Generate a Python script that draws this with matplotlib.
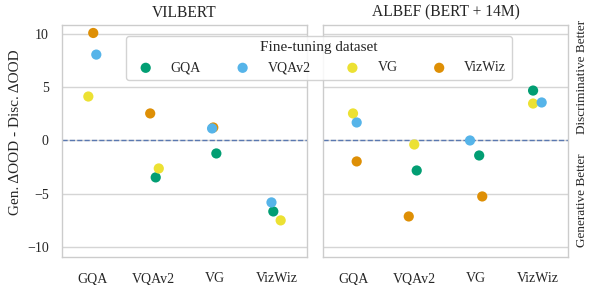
import matplotlib
matplotlib.use("Agg")
import matplotlib.pyplot as plt
import numpy as np
import seaborn as sns

sns.set_theme(style="whitegrid")
plt.rcParams['font.family'] = ['Liberation Serif', 'DejaVu Serif']
plt.rcParams['mathtext.fontset'] = 'stix'

eval_sets = ["GQA", "VQAv2", "VG", "VizWiz"]
finetune_sets = ["GQA", "VQAv2", "VG", "VizWiz"]
colors = {"GQA": "#029e73", "VQAv2": "#56b4e9", "VG": "#ece133", "VizWiz": "#de8f05"}
draw_order = {"VizWiz": 2, "GQA": 3, "VG": 4, "VQAv2": 5}
models = ["VILBERT", "ALBEF (BERT + 14M)"]

# values per model: fine-tuning dataset -> list over eval_sets (None = in-domain, not shown)
vilbert = {
    "GQA":    [None, -3.47, -1.22, -6.67],
    "VQAv2":  [8.07, None, 1.13, -5.82],
    "VG":     [4.13, -2.63, None, -7.51],
    "VizWiz": [10.1, 2.54, 1.22, None],
}
albef = {
    "GQA":    [None, -2.82, -1.41, 4.69],
    "VQAv2":  [1.69, None, 0.0, 3.57],
    "VG":     [2.54, -0.38, None, 3.47],
    "VizWiz": [-1.97, -7.14, -5.26, None],
}
# horizontal strip jitter (category units)
vilbert_jitter = {
    "GQA":    [0, 0.03, 0.02, -0.05],
    "VQAv2":  [0.06, 0, -0.05, -0.08],
    "VG":     [-0.07, 0.08, 0, 0.07],
    "VizWiz": [0.01, -0.06, -0.03, 0],
}
albef_jitter = {
    "GQA":    [0, 0.03, 0.05, -0.07],
    "VQAv2":  [0.05, 0, -0.1, 0.07],
    "VG":     [-0.01, -0.01, 0, -0.07],
    "VizWiz": [0.05, -0.1, 0.1, 0],
}
data = [vilbert, albef]
jitters = [vilbert_jitter, albef_jitter]

fig = plt.figure(figsize=(5.89, 2.85), dpi=100)
ax1 = fig.add_axes([62/589, 1-257/285, 245/589, 232/285])
ax2 = fig.add_axes([323/589, 1-257/285, 245/589, 232/285], sharey=ax1)
axes = [ax1, ax2]

handles = {}
for k, ax in enumerate(axes):
    ax.axhline(0, color="#5a78b0", linestyle="--", linewidth=1.0, zorder=1)
    for ft in finetune_sets:
        xs, ys = [], []
        for i, v in enumerate(data[k][ft]):
            if v is None:
                continue
            xs.append(i + jitters[k][ft][i])
            ys.append(v)
        h = ax.scatter(xs, ys, s=54, color=colors[ft], edgecolors="none",
                       zorder=draw_order[ft], label=ft)
        if k == 0:
            handles[ft] = h
    ax.set_xticks(range(len(eval_sets)))
    ax.set_xticklabels(eval_sets, fontsize=10)
    ax.set_xlim(-0.5, 3.5)
    ax.set_ylim(-10.95, 10.85)
    ax.set_yticks([-10, -5, 0, 5, 10])
    ax.grid(axis="x", visible=False)
    ax.grid(axis="y", color="#d5d5d5", linewidth=1.0)
    for sp in ax.spines.values():
        sp.set_color("#cccccc")
        sp.set_linewidth(1.0)
    ax.tick_params(axis="x", length=0, pad=11, labelsize=10)
    ax.tick_params(axis="y", length=0, pad=9.6, labelsize=10)
    ax.set_title(models[k], fontsize=11.2, pad=6)

ax1.set_ylabel("Gen. ΔOOD - Disc. ΔOOD", fontsize=11)
ax1.yaxis.set_label_coords(-0.165, 0.54)
plt.setp(ax2.get_yticklabels(), visible=False)

ax2.text(1.057, 0.775, "Discriminative Better", transform=ax2.transAxes, rotation=90,
         ha="center", va="center", fontsize=9.5)
ax2.text(1.057, 0.245, "Generative Better", transform=ax2.transAxes, rotation=90,
         ha="center", va="center", fontsize=9.5)

leg = fig.legend(handles=[handles[f] for f in finetune_sets], labels=finetune_sets,
                 title="Fine-tuning dataset", ncol=4, loc="upper center",
                 bbox_to_anchor=(319/589, 1-29/285),
                 fontsize=10, title_fontsize=11, frameon=True)
leg.get_frame().set_edgecolor("#cccccc")
leg.get_frame().set_facecolor("white")
leg.get_frame().set_alpha(0.85)

fig.savefig("out.png", dpi=100)
